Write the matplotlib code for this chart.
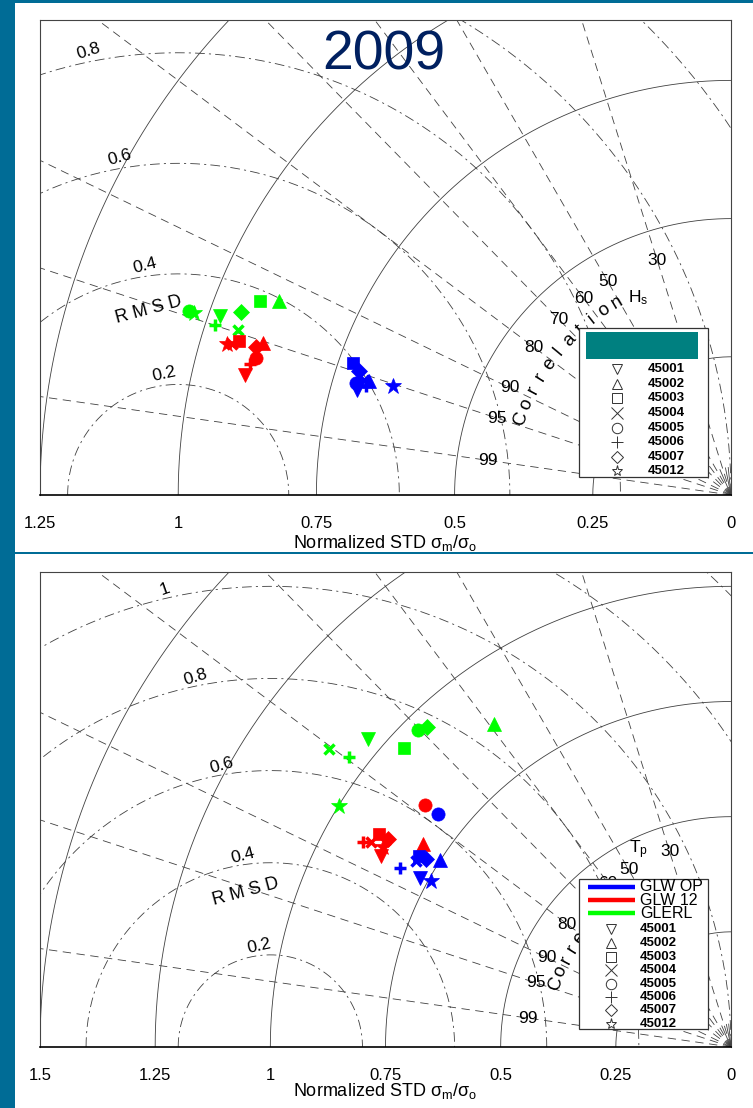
import numpy as np
import matplotlib
matplotlib.use("Agg")
from matplotlib import pyplot as plt
from matplotlib.patches import Rectangle

plt.rcParams['font.family'] = ['Liberation Sans', 'DejaVu Sans']
plt.rcParams['mathtext.fontset'] = 'custom'
plt.rcParams['mathtext.rm'] = 'Liberation Sans'
plt.rcParams['mathtext.it'] = 'Liberation Sans'
plt.rcParams['mathtext.default'] = 'rm'
plt.rcParams['lines.scale_dashes'] = False

year = '2009'
models = ['GLW OP', 'GLW 12', 'GLERL']
stations = ['45001', '45002', '45003', '45004', '45005', '45006', '45007', '45012']

# Hs: normalized std and correlation, one value per station
hs_std_glwop = [0.702, 0.687, 0.724, 0.695, 0.709, 0.690, 0.710, 0.642]
hs_cor_glwop = [0.963, 0.954, 0.944, 0.954, 0.958, 0.958, 0.949, 0.952]
hs_std_glw12 = [0.905, 0.890, 0.932, 0.943, 0.895, 0.901, 0.900, 0.951]
hs_cor_glw12 = [0.971, 0.951, 0.954, 0.957, 0.961, 0.965, 0.955, 0.958]
hs_std_glerl = [0.979, 0.889, 0.922, 0.940, 1.035, 0.982, 0.946, 1.026]
hs_cor_glerl = [0.944, 0.919, 0.925, 0.948, 0.947, 0.950, 0.937, 0.947]

# Tp
tp_std_glwop = [0.768, 0.751, 0.794, 0.794, 0.813, 0.817, 0.778, 0.744]
tp_cor_glwop = [0.879, 0.841, 0.853, 0.861, 0.783, 0.880, 0.851, 0.875]
tp_std_glw12 = [0.866, 0.801, 0.893, 0.899, 0.847, 0.914, 0.871, 0.871]
tp_cor_glw12 = [0.878, 0.835, 0.856, 0.869, 0.784, 0.874, 0.855, 0.867]
tp_std_glerl = [1.033, 0.870, 0.962, 1.086, 0.967, 1.041, 0.958, 0.999]
tp_cor_glerl = [0.763, 0.592, 0.738, 0.803, 0.703, 0.797, 0.689, 0.852]

hs_ticks = [1.25, 1, 0.75, 0.5, 0.25, 0]
tp_ticks = [1.5, 1.25, 1, 0.75, 0.5, 0.25, 0]
cor_ticks = [0.3, 0.5, 0.6, 0.7, 0.8, 0.9, 0.95, 0.99]
cor_labels = ['30', '50', '60', '70', '80', '90', '95', '99']
rmsd_levels = [0.2, 0.4, 0.6, 0.8, 1.0, 1.2, 1.4]
rmsd_labels = ['0.2', '0.4', '0.6', '0.8', '1']

model_colors = ['#0000ff', '#ff0000', '#00ff00']
station_markers = ['v', '^', 's', 'x', 'o', '+', 'D', '*']
marker_size = {'v': 10, '^': 10, 's': 9, 'x': 7, 'o': 9.5, '+': 9, 'D': 8, '*': 12}
GRID = '#404040'


def taylor_axes(ax, smax, ticks, var_label):
    ymax = smax * 475.0 / 691.0
    th = np.linspace(0, np.pi / 2, 300)
    # std arcs
    for s in np.arange(0.25, smax + 0.01, 0.25):
        ax.plot(s * np.cos(th), s * np.sin(th), '-', color=GRID, lw=0.6, zorder=1)
    # rmsd circles around reference
    th2 = np.linspace(0, np.pi, 600)
    for r in rmsd_levels:
        ax.plot(1 + r * np.cos(th2), r * np.sin(th2), color=GRID, lw=0.6,
                ls=(0, (7, 3, 1.5, 3)), zorder=1)
    for r, lab in zip(rmsd_levels, rmsd_labels):
        a = np.radians(95 + 8 * r)
        rr = r + 0.02
        y = rr * np.sin(a)
        if y < ymax - 0.02:
            ax.text(1 - rr * np.cos(a), y, lab, rotation=np.degrees(a) - 84,
                    ha='center', va='center', fontsize=12.5, zorder=3)
    a = np.radians(99)
    ax.text(1 - 0.34 * np.cos(a), 0.34 * np.sin(a), 'R M S D', rotation=15,
            ha='center', va='center', fontsize=13, zorder=3)
    # correlation lines
    for c, lab in zip(cor_ticks, cor_labels):
        phi = np.arccos(c)
        ax.plot([0, 3 * np.cos(phi)], [0, 3 * np.sin(phi)], color=GRID, lw=0.6,
                ls=(0, (6, 4)), zorder=1)
        ax.text(0.445 * np.cos(phi), 0.445 * np.sin(phi), lab, ha='center',
                va='center', fontsize=12.5, zorder=3)
    for c in [0.1, 0.2, 0.4]:
        phi = np.arccos(c)
        ax.plot([0, 0.05 * np.cos(phi)], [0, 0.05 * np.sin(phi)], color=GRID, lw=0.6, zorder=1)
    for i, ch in enumerate('Correlation'):
        phi = np.radians(20 + i * 3.95)
        ax.text(0.405 * np.cos(phi), 0.405 * np.sin(phi), ch,
                rotation=90 - np.degrees(phi), ha='center', va='center',
                fontsize=13.5, zorder=3)
    ax.text(0.866, 0.415, var_label, transform=ax.transAxes, ha='center',
            va='center', fontsize=12.5, zorder=3)

    ax.set_xlim(smax, 0)
    ax.set_ylim(0, ymax)
    ax.set_yticks([])
    ax.set_xticks(ticks)
    ax.set_xticklabels(['%g' % t for t in ticks])
    ax.tick_params(axis='x', length=0, pad=15, labelsize=12)
    for side in ['top', 'left', 'right']:
        ax.spines[side].set_color('#444444')
        ax.spines[side].set_linewidth(0.8)
    ax.spines['bottom'].set_linewidth(1.2)
    ax.set_xlabel(r'Normalized STD $\sigma_m/\sigma_o$', fontsize=13)


def plot_points(ax, std, cor, color):
    std = np.array(std)
    cor = np.array(cor)
    x = std * cor
    y = std * np.sqrt(1 - cor ** 2)
    for xi, yi, m in zip(x, y, station_markers):
        if m in ('x', '+'):
            ax.plot(xi, yi, marker=m, color=color, ms=marker_size[m], mew=2.5,
                    ls='none', zorder=5)
        else:
            ax.plot(xi, yi, marker=m, color=color, ms=marker_size[m], mew=0.5,
                    ls='none', zorder=5)


def draw_legend(ax, box, rows, mx, tx, show_lines, line_rows=None):
    ax.add_patch(Rectangle((box[0], box[1]), box[2], box[3], transform=ax.transAxes,
                           facecolor='white', edgecolor='#333333', lw=0.9,
                           zorder=20, clip_on=False))
    if show_lines:
        for name, col, yy in zip(models, model_colors, line_rows):
            ax.plot([0.793, 0.861], [yy, yy], transform=ax.transAxes, color=col,
                    lw=3.2, solid_capstyle='butt', zorder=21, clip_on=False)
            ax.text(0.868, yy, name, transform=ax.transAxes, va='center',
                    fontsize=11.5, zorder=22)
    else:
        ax.add_patch(Rectangle((0.790, 0.286), 0.162, 0.057, transform=ax.transAxes,
                               facecolor='#008080', edgecolor='none', zorder=21))
    for st, m, yy in zip(stations, station_markers, rows):
        ms = 7.5 if m not in ('*', 'x', '+') else 8
        if m == 'D':
            ms = 6.5
        ax.plot([mx], [yy], transform=ax.transAxes, marker=m, ms=ms,
                mfc='none', mec='#333333', mew=0.7, zorder=21, clip_on=False)
        ax.text(tx, yy, st, transform=ax.transAxes, va='center', fontsize=9.5,
                fontweight='bold', zorder=22)


fig = plt.figure(figsize=(7.53, 11.08), dpi=100)
ax1 = fig.add_axes([40 / 753, 1 - 495 / 1108, 691 / 753, 475 / 1108])
ax2 = fig.add_axes([40 / 753, 1 - 1047 / 1108, 691 / 753, 475 / 1108])
ax2.set_zorder(2)

taylor_axes(ax1, 1.25, hs_ticks, r'H$_s$')
taylor_axes(ax2, 1.5, tp_ticks, r'T$_p$')
ax1.xaxis.set_label_coords(0.5, -0.080)
ax2.xaxis.set_label_coords(0.5, -0.072)

plot_points(ax1, hs_std_glerl, hs_cor_glerl, model_colors[2])
plot_points(ax1, hs_std_glw12, hs_cor_glw12, model_colors[1])
plot_points(ax1, hs_std_glwop, hs_cor_glwop, model_colors[0])
plot_points(ax2, tp_std_glerl, tp_cor_glerl, model_colors[2])
plot_points(ax2, tp_std_glw12, tp_cor_glw12, model_colors[1])
plot_points(ax2, tp_std_glwop, tp_cor_glwop, model_colors[0])

draw_legend(ax1, (0.780, 0.038, 0.187, 0.314),
            [0.265, 0.234, 0.204, 0.173, 0.141, 0.112, 0.080, 0.051],
            0.835, 0.880, False)
draw_legend(ax2, (0.780, 0.038, 0.187, 0.316),
            [0.248, 0.219, 0.190, 0.162, 0.133, 0.105, 0.078, 0.048],
            0.826, 0.868, True, [0.337, 0.309, 0.282])

# slide frame
frame = '#006c96'
fig.add_artist(Rectangle((0, 0), 15 / 753, 1, transform=fig.transFigure,
                         facecolor=frame, edgecolor='none', zorder=3))
fig.add_artist(Rectangle((0, 1 - 3 / 1108), 1, 3 / 1108, transform=fig.transFigure,
                         facecolor=frame, edgecolor='none', zorder=3))
fig.add_artist(Rectangle((15 / 753, 1 - 570 / 1108), 1, 17 / 1108,
                         transform=fig.transFigure, facecolor='white',
                         edgecolor='none', zorder=1))
fig.add_artist(Rectangle((15 / 753, 1 - 553.5 / 1108), 1, 1.5 / 1108,
                         transform=fig.transFigure, facecolor=frame,
                         edgecolor='none', zorder=3))

fig.text(384 / 753, 1 - 56 / 1108, year, ha='center', va='center', fontsize=40,
         color='#002060')

fig.savefig('out.png', dpi=100)
